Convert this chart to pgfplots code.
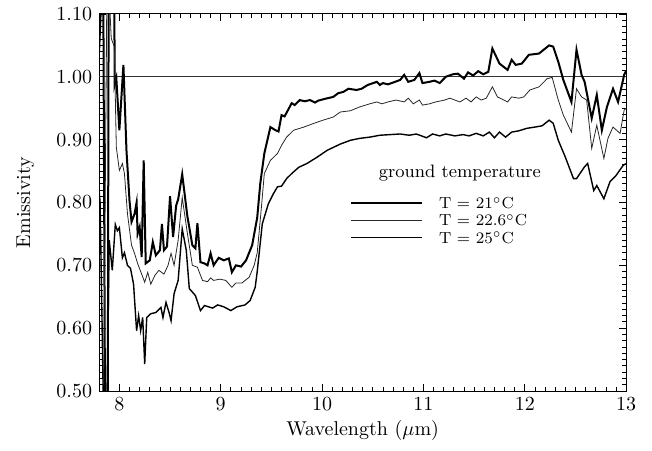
\documentclass[border=0pt]{standalone}
\usepackage{pgfplots}
\pgfplotsset{compat=1.18}

\begin{document}
\begin{tikzpicture}
\begin{axis}[
    scale only axis,
    width=263.5pt,
    height=188.5pt,
    xmin=7.8, xmax=13,
    ymin=0.5, ymax=1.1,
    xtick={8,9,10,11,12,13},
    ytick={0.5,0.6,0.7,0.8,0.9,1.0,1.1},
    minor x tick num=9,
    minor y tick num=9,
    tick align=inside,
    major tick length=3.5pt,
    minor tick length=2pt,
    every tick/.style={black, line width=0.4pt},
    axis line style={line width=0.5pt},
    yticklabel style={/pgf/number format/.cd, fixed, fixed zerofill, precision=2},
    xticklabel style={/pgf/number format/.cd, fixed},
    xlabel={Wavelength ($\mu$m)},
    ylabel={Emissivity},
    xlabel style={at={(axis description cs:0.5,-0.106)}, anchor=center},
    ylabel style={at={(axis description cs:-0.14,0.5)}, anchor=center},
]
% reference line at emissivity 1
\addplot[black!80, line width=0.5pt, forget plot] coordinates {(7.8,1.0) (13,1.0)};

% T = 21 C
\addplot[black, line width=1pt] coordinates {
(7.80,1.04) (7.84,1.20) (7.86,0.40) (7.885,0.40) (7.895,1.20) (7.95,1.20)
(7.953,0.987) (7.97,0.998) (8.00,0.915) (8.04,1.019) (8.07,0.883) (8.10,0.803)
(8.12,0.769) (8.15,0.782) (8.17,0.800) (8.18,0.750) (8.20,0.761) (8.22,0.713)
(8.24,0.867) (8.26,0.703) (8.30,0.708) (8.33,0.737) (8.36,0.716) (8.40,0.724)
(8.42,0.766) (8.44,0.724) (8.47,0.730) (8.50,0.810) (8.53,0.745) (8.56,0.795)
(8.58,0.805) (8.62,0.845) (8.67,0.779) (8.72,0.732) (8.75,0.727) (8.77,0.767)
(8.80,0.705) (8.84,0.703) (8.87,0.700) (8.90,0.719) (8.93,0.700) (8.98,0.712)
(9.03,0.708) (9.08,0.711) (9.11,0.689) (9.15,0.700) (9.20,0.698) (9.25,0.708)
(9.31,0.732) (9.36,0.776) (9.39,0.830) (9.43,0.878) (9.49,0.920) (9.54,0.915)
(9.57,0.913) (9.60,0.939) (9.63,0.937) (9.70,0.958) (9.73,0.955) (9.78,0.963)
(9.83,0.961) (9.88,0.963) (9.93,0.959) (9.96,0.962) (10.03,0.965) (10.11,0.968)
(10.16,0.974) (10.21,0.976) (10.26,0.981) (10.34,0.979) (10.39,0.981) (10.45,0.987)
(10.54,0.992) (10.57,0.987) (10.60,0.990) (10.65,0.988) (10.72,0.992) (10.77,0.995)
(10.81,1.003) (10.85,0.992) (10.91,0.995) (10.96,1.006) (10.99,0.990) (11.06,0.992)
(11.11,0.994) (11.16,0.990) (11.22,1.000) (11.29,1.004) (11.34,1.005) (11.40,0.997)
(11.44,1.007) (11.49,1.002) (11.54,1.009) (11.59,1.004) (11.64,1.008) (11.68,1.045)
(11.75,1.021) (11.83,1.011) (11.87,1.027) (11.91,1.019) (11.97,1.021) (12.04,1.035)
(12.14,1.037) (12.24,1.050) (12.28,1.048) (12.33,1.024) (12.38,0.995) (12.46,0.960)
(12.51,1.043) (12.56,1.003) (12.59,0.992) (12.66,0.934) (12.71,0.971) (12.76,0.915)
(12.81,0.952) (12.87,0.981) (12.92,0.960) (12.98,1.003) (13.00,1.010)
};

% T = 22.6 C
\addplot[black!85, line width=0.4pt] coordinates {
(7.84,0.40) (7.88,1.20) (7.92,1.061) (7.95,1.048) (7.97,0.888) (8.00,0.851)
(8.03,0.862) (8.05,0.846) (8.08,0.782) (8.12,0.732) (8.15,0.719) (8.18,0.703)
(8.22,0.686) (8.25,0.673) (8.28,0.689) (8.31,0.670) (8.35,0.684) (8.39,0.692)
(8.44,0.686) (8.48,0.700) (8.51,0.719) (8.54,0.700) (8.58,0.740) (8.62,0.808)
(8.67,0.752) (8.72,0.700) (8.77,0.697) (8.82,0.676) (8.87,0.674) (8.90,0.680)
(8.93,0.676) (8.99,0.678) (9.05,0.676) (9.11,0.665) (9.15,0.672) (9.21,0.672)
(9.28,0.681) (9.33,0.700) (9.36,0.720) (9.40,0.790) (9.43,0.846) (9.49,0.867)
(9.56,0.878) (9.60,0.891) (9.65,0.904) (9.72,0.915) (9.82,0.920) (9.92,0.926)
(10.01,0.931) (10.11,0.936) (10.18,0.944) (10.28,0.946) (10.37,0.952) (10.47,0.957)
(10.54,0.960) (10.59,0.957) (10.65,0.960) (10.73,0.963) (10.81,0.960) (10.85,0.966)
(10.90,0.957) (10.96,0.963) (10.99,0.955) (11.06,0.957) (11.12,0.960) (11.21,0.963)
(11.26,0.966) (11.31,0.963) (11.36,0.960) (11.42,0.966) (11.47,0.960) (11.52,0.968)
(11.57,0.963) (11.62,0.966) (11.68,0.984) (11.73,0.968) (11.83,0.960) (11.87,0.968)
(11.94,0.966) (11.99,0.968) (12.05,0.979) (12.14,0.984) (12.22,0.997) (12.27,0.999)
(12.33,0.963) (12.38,0.939) (12.46,0.912) (12.51,0.981) (12.56,0.968) (12.61,0.963)
(12.66,0.886) (12.71,0.923) (12.78,0.870) (12.82,0.902) (12.87,0.920) (12.94,0.910)
(12.98,0.947) (13.00,0.950)
};

% T = 25 C
\addplot[black, line width=0.7pt] coordinates {
(7.80,0.82) (7.81,0.80) (7.85,0.40) (7.87,0.40) (7.90,0.740) (7.93,0.692)
(7.96,0.765) (7.98,0.755) (8.00,0.760) (8.03,0.712) (8.05,0.720) (8.08,0.700)
(8.11,0.695) (8.14,0.670) (8.17,0.596) (8.19,0.620) (8.21,0.596) (8.23,0.617)
(8.25,0.543) (8.27,0.617) (8.31,0.623) (8.36,0.625) (8.41,0.633) (8.43,0.617)
(8.46,0.641) (8.49,0.625) (8.51,0.612) (8.54,0.655) (8.58,0.676) (8.62,0.758)
(8.66,0.724) (8.69,0.663) (8.75,0.652) (8.80,0.628) (8.84,0.636) (8.92,0.632)
(8.97,0.637) (9.03,0.634) (9.10,0.628) (9.16,0.634) (9.24,0.637) (9.29,0.644)
(9.34,0.665) (9.36,0.690) (9.41,0.766) (9.47,0.798) (9.52,0.814) (9.56,0.825)
(9.60,0.826) (9.65,0.838) (9.70,0.846) (9.77,0.856) (9.85,0.862) (9.95,0.872)
(10.05,0.883) (10.18,0.893) (10.28,0.899) (10.37,0.902) (10.47,0.904) (10.57,0.907)
(10.67,0.908) (10.77,0.909) (10.86,0.907) (10.93,0.909) (11.03,0.903) (11.09,0.909)
(11.16,0.906) (11.22,0.909) (11.31,0.906) (11.39,0.908) (11.45,0.906) (11.52,0.910)
(11.59,0.906) (11.65,0.912) (11.70,0.903) (11.75,0.912) (11.81,0.904) (11.87,0.912)
(11.94,0.914) (12.02,0.918) (12.10,0.920) (12.17,0.922) (12.24,0.931) (12.28,0.926)
(12.33,0.899) (12.40,0.872) (12.48,0.838) (12.51,0.838) (12.59,0.857) (12.62,0.862)
(12.68,0.819) (12.71,0.827) (12.78,0.806) (12.84,0.833) (12.90,0.843) (12.97,0.859)
(13.00,0.862)
};

% legend drawn by hand
\node[font=\small, inner sep=0pt] at (axis cs:11.36,0.846) {ground temperature};
\draw[black, line width=1pt] (axis cs:10.29,0.7986) -- (axis cs:10.99,0.7986);
\draw[black!85, line width=0.4pt] (axis cs:10.29,0.7715) -- (axis cs:10.99,0.7715);
\draw[black, line width=0.7pt] (axis cs:10.29,0.7443) -- (axis cs:10.99,0.7443);
\node[font=\footnotesize, inner sep=0pt, anchor=west] at (axis cs:11.15,0.7986) {T = 21$^{\circ}$C};
\node[font=\footnotesize, inner sep=0pt, anchor=west] at (axis cs:11.15,0.7715) {T = 22.6$^{\circ}$C};
\node[font=\footnotesize, inner sep=0pt, anchor=west] at (axis cs:11.15,0.7443) {T = 25$^{\circ}$C};

\coordinate (bl) at (rel axis cs:-0.188,-0.157);
\coordinate (tr) at (rel axis cs:1.049,1.037);
\end{axis}
\path (bl) rectangle (tr);
\end{tikzpicture}
\end{document}
